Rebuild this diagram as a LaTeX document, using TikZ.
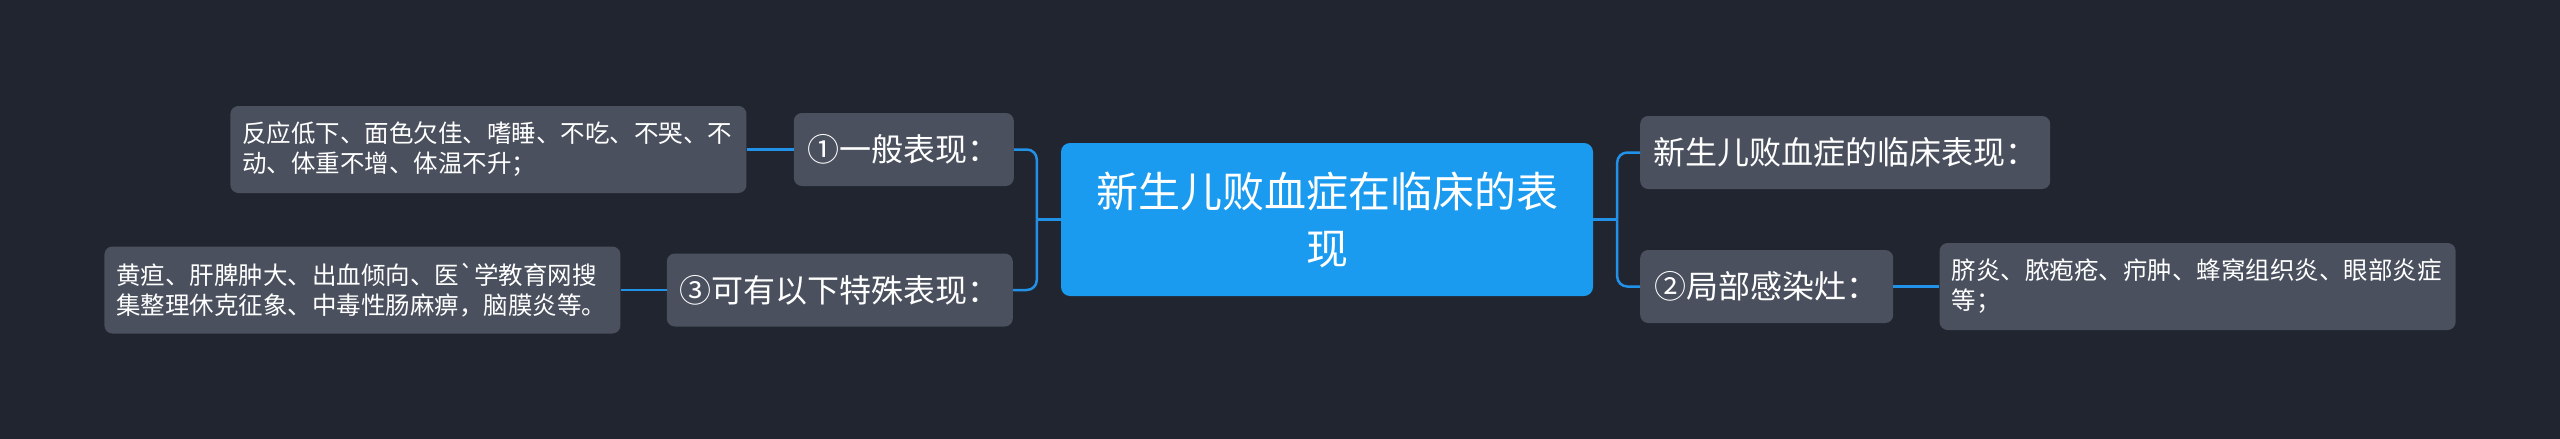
\documentclass[tikz,border=0pt]{standalone}
\usepackage{fontspec}
\newfontfamily\cjk{Noto Sans CJK SC}
\usetikzlibrary{positioning, calc}
\definecolor{mapBg}{RGB}{33, 37, 47}
\definecolor{mapBlue}{RGB}{27, 155, 240}
\definecolor{mapLine}{RGB}{34, 146, 232}
\definecolor{mapGray}{RGB}{74, 80, 94}

\begin{document}
\begin{tikzpicture}[x=1pt, y=-1pt,
        topic/.style={rectangle, rounded corners=9pt, fill=mapBlue, text=white, minimum width=532pt, minimum height=153pt, align=center, font=\cjk\fontsize{42}{57}\selectfont},
        branch/.style={rectangle, rounded corners=8pt, fill=mapGray, text=white, minimum height=73pt, inner xsep=13pt, font=\cjk\fontsize{32}{38}\selectfont},
        leaf/.style={rectangle, rounded corners=8pt, fill=mapGray, text=white, minimum height=87pt, text width=492pt, inner xsep=12pt, align=left, font=\cjk\fontsize{24.5}{30}\selectfont},
        link/.style={draw=mapLine, line width=2.5pt},
        fork/.style={link, rounded corners=10pt}
    ]
        \fill[mapBg] (0,0) rectangle (2560,439);
        \useasboundingbox (0,0) rectangle (2560,439);

        % Central topic
        \node[topic] (root) at (1327,219.5) {新生儿败血症在临床的表\\现};

        % Left side
        \node[branch, minimum width=220pt, anchor=east] (gen) at (1014,149.5) {①一般表现：};
        \node[branch, minimum width=346pt, anchor=east] (spec) at (1013,290) {③可有以下特殊表现：};
        \node[leaf, left=47pt of gen] (genleaf) {反应低下、面色欠佳、嗜睡、不吃、不哭、不\\动、体重不增、体温不升；};
        \node[leaf, left=46pt of spec] (specleaf) {黄疸、肝脾肿大、出血倾向、医\textasciigrave 学教育网搜\\集整理休克征象、中毒性肠麻痹，脑膜炎等。};

        % Right side
        \node[branch, minimum width=410pt, anchor=west] (intro) at (1640,152.5) {新生儿败血症的临床表现：};
        \node[branch, minimum width=253pt, anchor=west] (local) at (1640,286.5) {②局部感染灶：};
        \node[leaf, right=46pt of local] (localleaf) {脐炎、脓疱疮、疖肿、蜂窝组织炎、眼部炎症\\等；};

        \coordinate (lfork) at ($(root.west)+(-24,0)$);
        \coordinate (rfork) at ($(root.east)+(24,0)$);

        \draw[link] (root.west) -- (lfork);
        \draw[fork] (gen.east) -| (lfork);
        \draw[fork] (spec.east) -| (lfork);
        \draw[link] (root.east) -- (rfork);
        \draw[fork] (intro.west) -| (rfork);
        \draw[fork] (local.west) -| (rfork);

        \draw[link] (genleaf) -- (gen);
        \draw[link] (specleaf) -- (spec);
        \draw[link] (local) -- (localleaf);
    \end{tikzpicture}
\end{document}
